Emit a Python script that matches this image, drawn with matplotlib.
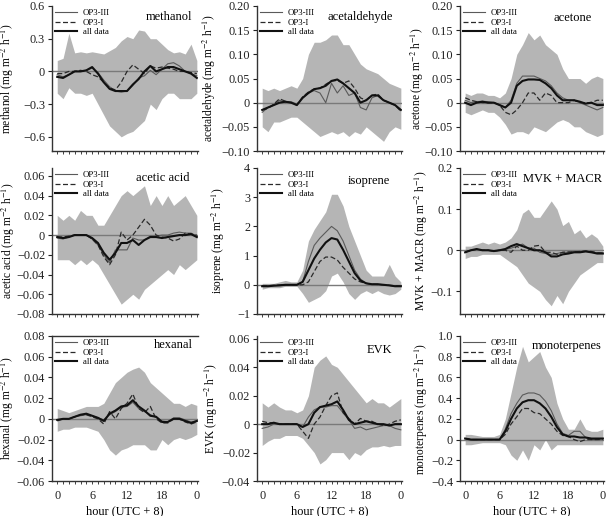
import numpy as np
import matplotlib
matplotlib.use("Agg")
import matplotlib.pyplot as plt
from matplotlib.ticker import MultipleLocator, FixedLocator, FixedFormatter

plt.rcParams['font.family'] = ['Liberation Serif', 'DejaVu Serif']
plt.rcParams['mathtext.fontset'] = 'stix'

hours = np.arange(25)

# ---------------- data (hourly) ----------------
methanol_hi = [0.10, 0.12, 0.35, 0.17, 0.18, 0.17, 0.18, 0.17, 0.16, 0.19, 0.22, 0.28, 0.32, 0.30, 0.38, 0.37, 0.30, 0.30, 0.25, 0.20, 0.17, 0.18, 0.16, 0.25, 0.10]
methanol_lo = [-0.20, -0.25, -0.15, -0.20, -0.20, -0.22, -0.20, -0.30, -0.40, -0.50, -0.55, -0.60, -0.57, -0.55, -0.50, -0.45, -0.30, -0.35, -0.25, -0.20, -0.20, -0.25, -0.25, -0.25, -0.20]
methanol_op3iii = [-0.03, -0.05, -0.03, 0.00, 0.00, 0.01, 0.03, -0.01, -0.08, -0.14, -0.18, -0.19, -0.18, -0.13, -0.06, -0.04, 0.01, -0.03, 0.02, 0.07, 0.08, 0.05, 0.00, -0.02, -0.04]
methanol_op3i = [-0.02, -0.02, 0.00, 0.00, 0.01, 0.00, -0.03, -0.05, -0.10, -0.15, -0.17, -0.10, 0.00, 0.06, 0.02, -0.02, 0.05, 0.03, 0.04, 0.03, 0.02, 0.00, 0.00, -0.01, -0.02]
methanol_all = [-0.05, -0.06, -0.03, 0.00, 0.00, 0.01, 0.04, -0.02, -0.10, -0.16, -0.18, -0.18, -0.18, -0.12, -0.07, 0.00, 0.05, 0.00, 0.02, 0.04, 0.04, 0.02, 0.00, -0.02, -0.06]

acetaldehyde_hi = [0.030, 0.025, 0.030, 0.025, 0.030, 0.035, 0.030, 0.050, 0.100, 0.125, 0.125, 0.130, 0.140, 0.140, 0.120, 0.120, 0.100, 0.080, 0.070, 0.065, 0.060, 0.050, 0.040, 0.035, 0.030]
acetaldehyde_lo = [-0.050, -0.060, -0.040, -0.040, -0.035, -0.030, -0.030, -0.040, -0.050, -0.060, -0.070, -0.065, -0.060, -0.065, -0.060, -0.070, -0.060, -0.065, -0.050, -0.060, -0.070, -0.080, -0.060, -0.050, -0.055]
acetaldehyde_op3iii = [-0.020, -0.010, -0.005, 0.005, 0.000, 0.002, -0.003, 0.010, 0.020, 0.025, 0.020, 0.000, 0.040, 0.020, 0.035, 0.015, 0.020, -0.010, -0.015, 0.010, 0.015, 0.005, 0.000, -0.005, -0.015]
acetaldehyde_op3i = [-0.015, -0.012, -0.003, 0.008, 0.003, 0.000, -0.005, 0.012, 0.022, 0.028, 0.030, 0.038, 0.045, 0.046, 0.040, 0.045, 0.030, 0.010, 0.005, 0.015, 0.018, 0.005, 0.000, -0.005, -0.018]
acetaldehyde_all = [-0.015, -0.010, -0.005, 0.000, 0.002, 0.000, -0.005, 0.010, 0.020, 0.028, 0.030, 0.035, 0.045, 0.048, 0.040, 0.030, 0.020, 0.000, 0.005, 0.015, 0.015, 0.005, 0.000, -0.005, -0.015]

acetone_hi = [0.020, 0.015, 0.020, 0.020, 0.015, 0.015, 0.010, 0.020, 0.050, 0.100, 0.120, 0.145, 0.130, 0.140, 0.120, 0.110, 0.100, 0.070, 0.050, 0.050, 0.050, 0.040, 0.050, 0.055, 0.050]
acetone_lo = [-0.020, -0.025, -0.020, -0.015, -0.020, -0.020, -0.030, -0.045, -0.065, -0.060, -0.060, -0.065, -0.050, -0.055, -0.060, -0.050, -0.040, -0.035, -0.040, -0.050, -0.050, -0.060, -0.065, -0.070, -0.065]
acetone_op3iii = [0.005, 0.000, 0.002, 0.003, 0.002, 0.000, -0.004, -0.010, 0.005, 0.040, 0.055, 0.055, 0.055, 0.050, 0.045, 0.035, 0.020, 0.010, 0.005, 0.005, 0.000, -0.005, -0.010, -0.015, -0.010]
acetone_op3i = [0.010, 0.005, 0.002, 0.000, 0.000, 0.000, -0.005, -0.020, -0.025, -0.015, 0.000, 0.020, 0.020, 0.005, 0.020, 0.015, 0.000, 0.000, 0.000, 0.005, 0.000, 0.000, 0.000, 0.005, 0.005]
acetone_all = [0.000, -0.005, 0.000, 0.002, 0.000, 0.000, -0.005, -0.010, 0.000, 0.035, 0.045, 0.048, 0.048, 0.047, 0.040, 0.030, 0.015, 0.005, 0.005, 0.005, 0.002, -0.002, 0.000, -0.005, -0.005]

acetic_hi = [0.020, 0.015, 0.020, 0.015, 0.025, 0.020, 0.020, 0.010, 0.010, 0.020, 0.030, 0.040, 0.045, 0.040, 0.045, 0.050, 0.030, 0.040, 0.030, 0.040, 0.030, 0.035, 0.040, 0.030, 0.020]
acetic_lo = [-0.025, -0.025, -0.025, -0.030, -0.025, -0.030, -0.025, -0.030, -0.040, -0.050, -0.060, -0.070, -0.065, -0.060, -0.065, -0.055, -0.050, -0.045, -0.040, -0.035, -0.040, -0.030, -0.035, -0.030, -0.025]
acetic_op3iii = [-0.003, -0.004, -0.002, 0.000, 0.000, 0.000, -0.004, -0.010, -0.020, -0.028, -0.015, -0.015, -0.015, -0.003, -0.005, -0.005, -0.001, -0.001, 0.000, 0.000, 0.002, 0.003, 0.002, 0.002, -0.001]
acetic_op3i = [-0.002, -0.002, -0.001, 0.000, 0.000, 0.000, -0.004, -0.010, -0.022, -0.030, -0.020, 0.003, -0.005, 0.000, 0.008, 0.016, 0.010, 0.000, -0.002, -0.003, -0.006, -0.004, 0.002, 0.001, 0.000]
acetic_all = [-0.002, -0.003, -0.002, 0.000, 0.000, 0.000, -0.003, -0.008, -0.018, -0.025, -0.018, -0.008, -0.008, -0.005, -0.010, -0.005, -0.002, -0.002, -0.003, -0.002, -0.001, 0.000, 0.000, 0.001, -0.002]

isoprene_hi = [0.05, 0.05, 0.05, 0.10, 0.15, 0.10, 0.10, 0.50, 1.50, 1.90, 2.20, 2.50, 3.10, 3.10, 2.70, 2.00, 1.50, 1.00, 0.50, 0.30, 0.30, 0.30, 0.70, 0.30, 0.10]
isoprene_lo = [-0.15, -0.10, -0.10, -0.10, -0.05, -0.05, -0.05, -0.30, -0.60, -0.50, -0.40, -0.20, 0.30, 0.40, 0.10, -0.30, -0.50, -0.30, -0.20, -0.30, -0.20, -0.30, -0.35, -0.30, -0.15]
isoprene_op3iii = [-0.05, -0.05, -0.03, -0.02, 0.00, 0.00, 0.00, 0.10, 0.80, 1.35, 1.60, 1.80, 2.00, 1.85, 1.50, 1.00, 0.50, 0.20, 0.05, 0.02, 0.02, 0.00, -0.02, -0.05, -0.05]
isoprene_op3i = [-0.03, -0.03, -0.02, -0.01, 0.00, 0.00, 0.00, 0.00, 0.10, 0.45, 0.80, 0.95, 0.95, 0.85, 0.60, 0.40, 0.20, 0.10, 0.05, 0.02, 0.01, 0.00, -0.02, -0.03, -0.04]
isoprene_all = [-0.05, -0.05, -0.03, -0.02, 0.00, 0.00, 0.00, 0.10, 0.50, 0.90, 1.20, 1.45, 1.60, 1.55, 1.20, 0.80, 0.40, 0.15, 0.05, 0.02, 0.02, 0.00, -0.02, -0.05, -0.05]

mvk_hi = [0.010, 0.010, 0.015, 0.020, 0.015, 0.020, 0.015, 0.020, 0.030, 0.050, 0.090, 0.100, 0.080, 0.080, 0.100, 0.120, 0.100, 0.060, 0.070, 0.040, 0.050, 0.030, 0.040, 0.030, 0.010]
mvk_lo = [-0.020, -0.015, -0.015, -0.010, -0.010, -0.010, -0.010, -0.020, -0.030, -0.040, -0.060, -0.080, -0.090, -0.100, -0.120, -0.135, -0.110, -0.130, -0.100, -0.080, -0.060, -0.050, -0.040, -0.030, -0.030]
mvk_op3iii = [-0.005, 0.000, 0.002, 0.000, 0.000, -0.002, 0.000, 0.002, 0.005, 0.010, 0.015, 0.005, 0.005, -0.005, -0.008, -0.010, -0.008, -0.005, -0.005, -0.003, -0.003, -0.002, -0.004, -0.006, -0.006]
mvk_op3i = [-0.004, 0.000, 0.002, 0.000, 0.000, -0.002, 0.000, 0.000, -0.005, 0.010, 0.000, 0.000, 0.010, 0.012, -0.005, -0.005, -0.010, -0.005, -0.004, -0.004, -0.003, -0.002, -0.003, -0.006, -0.007]
mvk_all = [-0.005, 0.000, 0.003, 0.000, 0.000, -0.002, 0.000, 0.003, 0.010, 0.015, 0.010, 0.005, 0.000, 0.000, -0.005, -0.015, -0.015, -0.010, -0.008, -0.005, -0.005, -0.003, -0.005, -0.008, -0.008]

hexanal_hi = [0.010, 0.008, 0.006, 0.008, 0.010, 0.012, 0.012, 0.012, 0.015, 0.025, 0.035, 0.040, 0.045, 0.048, 0.050, 0.045, 0.035, 0.030, 0.025, 0.020, 0.015, 0.015, 0.012, 0.015, 0.013]
hexanal_lo = [-0.012, -0.010, -0.010, -0.008, -0.008, -0.008, -0.010, -0.012, -0.020, -0.030, -0.035, -0.030, -0.028, -0.025, -0.025, -0.025, -0.030, -0.030, -0.020, -0.025, -0.020, -0.018, -0.020, -0.018, -0.015]
hexanal_op3iii = [-0.001, 0.000, 0.000, 0.002, 0.003, 0.004, 0.003, 0.001, -0.001, 0.004, 0.007, 0.011, 0.012, 0.016, 0.010, 0.007, 0.004, 0.002, -0.002, -0.003, 0.001, 0.001, -0.001, -0.003, -0.002]
hexanal_op3i = [-0.002, 0.000, 0.000, 0.002, 0.004, 0.004, 0.002, 0.000, -0.005, 0.007, 0.000, 0.010, 0.015, 0.024, 0.010, 0.006, 0.012, 0.000, -0.004, -0.004, 0.000, 0.000, -0.003, -0.005, -0.003]
hexanal_all = [-0.001, 0.000, 0.000, 0.002, 0.004, 0.005, 0.003, 0.001, -0.002, 0.005, 0.008, 0.012, 0.013, 0.018, 0.012, 0.008, 0.003, 0.002, -0.003, -0.003, 0.000, 0.000, -0.002, -0.004, -0.002]

evk_hi = [0.015, 0.012, 0.015, 0.012, 0.010, 0.010, 0.008, 0.010, 0.020, 0.040, 0.045, 0.048, 0.042, 0.040, 0.035, 0.030, 0.025, 0.020, 0.015, 0.018, 0.015, 0.015, 0.012, 0.015, 0.018]
evk_lo = [-0.015, -0.012, -0.010, -0.010, -0.008, -0.008, -0.008, -0.010, -0.015, -0.020, -0.028, -0.025, -0.020, -0.020, -0.020, -0.025, -0.020, -0.022, -0.018, -0.016, -0.016, -0.015, -0.016, -0.015, -0.015]
evk_op3iii = [-0.003, -0.002, 0.000, 0.000, 0.000, 0.000, 0.000, -0.002, 0.005, 0.010, 0.012, 0.012, 0.013, 0.013, 0.008, 0.003, -0.003, -0.002, -0.004, -0.003, -0.002, -0.001, -0.001, -0.003, -0.004]
evk_op3i = [0.002, 0.001, 0.001, 0.000, 0.000, 0.000, 0.000, -0.005, -0.010, 0.000, 0.005, 0.013, 0.020, 0.022, 0.008, 0.004, 0.000, 0.004, 0.002, 0.002, 0.000, -0.001, 0.000, 0.002, 0.003]
evk_all = [0.000, 0.000, 0.001, 0.000, 0.000, 0.000, 0.000, -0.002, 0.000, 0.008, 0.012, 0.013, 0.014, 0.016, 0.010, 0.003, 0.000, 0.001, 0.002, 0.001, 0.000, 0.000, -0.001, 0.000, 0.000]

mono_hi = [0.05, 0.05, 0.04, 0.03, 0.03, 0.03, 0.05, 0.20, 0.45, 0.70, 0.90, 0.75, 0.80, 0.85, 0.70, 0.60, 0.35, 0.20, 0.10, 0.10, 0.20, 0.10, 0.08, 0.08, 0.10]
mono_lo = [-0.05, -0.05, -0.04, -0.03, -0.03, -0.03, -0.03, -0.05, -0.15, -0.20, -0.10, -0.20, -0.05, -0.10, 0.00, -0.10, -0.05, -0.05, -0.05, -0.05, -0.05, -0.05, -0.05, -0.05, -0.05]
mono_op3iii = [0.01, 0.00, 0.00, 0.00, 0.00, 0.00, 0.00, 0.10, 0.25, 0.35, 0.43, 0.45, 0.45, 0.43, 0.37, 0.28, 0.15, 0.06, 0.04, 0.08, 0.08, 0.02, 0.00, 0.00, 0.01]
mono_op3i = [0.01, 0.00, 0.00, 0.00, 0.00, 0.00, 0.00, 0.05, 0.15, 0.22, 0.30, 0.30, 0.26, 0.25, 0.20, 0.15, 0.08, 0.04, 0.03, 0.00, -0.02, 0.00, 0.00, 0.00, 0.00]
mono_all = [0.01, 0.00, 0.00, 0.00, 0.00, 0.00, 0.00, 0.08, 0.20, 0.30, 0.36, 0.38, 0.38, 0.35, 0.30, 0.22, 0.12, 0.05, 0.03, 0.03, 0.02, 0.02, 0.01, 0.01, 0.01]

names = ['methanol', 'acetaldehyde', 'acetone', 'acetic acid', 'isoprene',
         'MVK + MACR', 'hexanal', 'EVK', 'monoterpenes']
series = [
    (methanol_lo, methanol_hi, methanol_op3iii, methanol_op3i, methanol_all),
    (acetaldehyde_lo, acetaldehyde_hi, acetaldehyde_op3iii, acetaldehyde_op3i, acetaldehyde_all),
    (acetone_lo, acetone_hi, acetone_op3iii, acetone_op3i, acetone_all),
    (acetic_lo, acetic_hi, acetic_op3iii, acetic_op3i, acetic_all),
    (isoprene_lo, isoprene_hi, isoprene_op3iii, isoprene_op3i, isoprene_all),
    (mvk_lo, mvk_hi, mvk_op3iii, mvk_op3i, mvk_all),
    (hexanal_lo, hexanal_hi, hexanal_op3iii, hexanal_op3i, hexanal_all),
    (evk_lo, evk_hi, evk_op3iii, evk_op3i, evk_all),
    (mono_lo, mono_hi, mono_op3iii, mono_op3i, mono_all),
]
yticks = [
    [-0.6, -0.3, 0, 0.3, 0.6],
    [-0.10, -0.05, 0, 0.05, 0.10, 0.15, 0.20],
    [-0.10, -0.05, 0, 0.05, 0.10, 0.15, 0.20],
    [-0.08, -0.06, -0.04, -0.02, 0, 0.02, 0.04, 0.06],
    [-1, 0, 1, 2, 3, 4],
    [-0.1, 0, 0.1, 0.2],
    [-0.06, -0.04, -0.02, 0, 0.02, 0.04, 0.06, 0.08],
    [-0.04, -0.02, 0, 0.02, 0.04, 0.06],
    [-0.4, -0.2, 0, 0.2, 0.4, 0.6, 0.8, 1.0],
]
ydec = [1, 2, 2, 2, 0, 1, 2, 2, 1]
ylims = [(-0.73, 0.6), (-0.10, 0.20), (-0.10, 0.20), (-0.08, 0.068), (-1, 4),
         (-0.155, 0.2), (-0.06, 0.08), (-0.04, 0.062), (-0.4, 1.0)]
xtick_vals = [0, 6, 12, 18, 24]
xtick_labels = ['0', '6', '12', '18', '0']
legend_labels = ['OP3-III', 'OP3-I', 'all data']

# ---------------- layout (pixels) ----------------
W, H = 606, 516
fig = plt.figure(figsize=(W / 100, H / 100), dpi=100)
col_x = [(52, 146), (257, 145), (460, 144)]
row_y = [(6, 151), (168, 314), (336, 481)]
ylabel_x = [10, 212, 420, 11, 221, 424, 10, 214, 424]      # label centre x
title_right = [6, 9, 12, 8, 12, 2, 5, 10, 2]               # px from right edge
title_down = [11, 11, 12, 10, 13, 11, 9, 14, 10]           # px below axes top


def fmt(v, d):
    if abs(v) < 1e-12:
        return '0'
    s = f'{abs(v):.{d}f}'
    return ('\u2212' + s) if v < 0 else s


for i, name in enumerate(names):
    r, c = divmod(i, 3)
    x0, w = col_x[c]
    t, b = row_y[r]
    h = b - t
    ax = fig.add_axes([x0 / W, 1 - b / H, w / W, h / H])
    lo, hi, s3, s1, sa = series[i]
    ax.fill_between(hours, lo, hi, color='#b5b5b5', lw=0, zorder=1)
    ax.axhline(0, color='#7a7a7a', lw=1.0, zorder=2)
    l1, = ax.plot(hours, s3, color='#5a5a5a', lw=0.8, zorder=3)
    l2, = ax.plot(hours, s1, color='#2a2a2a', lw=0.9, ls=(0, (4, 2)), zorder=3)
    l3, = ax.plot(hours, sa, color='#111111', lw=1.5, zorder=4)

    ax.set_xlim(-0.9, 24.2)
    ax.set_ylim(*ylims[i])
    ax.yaxis.set_major_locator(FixedLocator(yticks[i]))
    ax.yaxis.set_major_formatter(FixedFormatter([fmt(v, ydec[i]) for v in yticks[i]]))
    ax.xaxis.set_major_locator(FixedLocator(xtick_vals))
    ax.xaxis.set_minor_locator(MultipleLocator(1))
    if r == 2:
        ax.set_xticklabels(xtick_labels)
        ax.set_xlabel('hour (UTC + 8)', fontsize=8.8, labelpad=2)
    else:
        ax.set_xticklabels([])

    ax.spines['right'].set_visible(False)
    ax.spines['top'].set_visible(name == 'hexanal')
    for sp in ['left', 'bottom', 'top']:
        ax.spines[sp].set_color('#333333')
        ax.spines[sp].set_linewidth(1.0)
    ax.tick_params(axis='y', direction='out', length=3, width=0.8, labelsize=8.8,
                   pad=2, colors='#222222')
    ax.tick_params(axis='x', which='both', direction='out', length=2.5, width=0.6,
                   labelsize=8.8, pad=4, colors='#222222')

    ax.set_ylabel(name + r' (mg m$^{-2}$ h$^{-1}$)', fontsize=8.3)
    ax.yaxis.set_label_coords((ylabel_x[i] + 6 - x0) / w, 0.5)
    ax.text(1 - title_right[i] / w, 1 - title_down[i] / h, name,
            transform=ax.transAxes, ha='right', va='center', fontsize=9, zorder=5)
    ax.legend([l1, l2, l3], legend_labels, loc='upper left', frameon=False,
              fontsize=6.3, handlelength=2.6, labelspacing=0.2, handletextpad=0.6,
              borderaxespad=0.0, borderpad=0.3, bbox_to_anchor=(0.0, 1.0))

fig.savefig('out.png', dpi=100)
